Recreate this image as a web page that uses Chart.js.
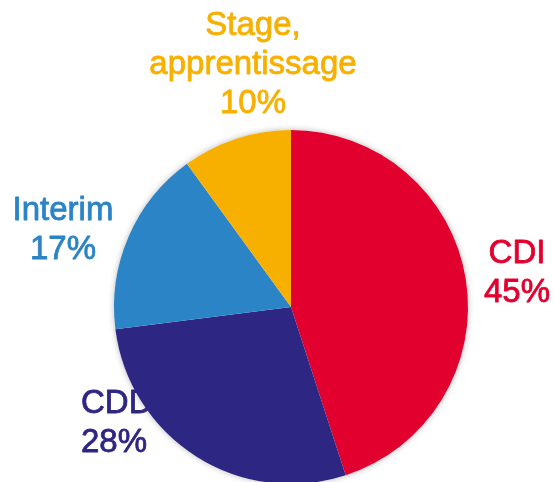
<!DOCTYPE html>
<html>
<head>
<meta charset="utf-8">
<style>
html,body{margin:0;padding:0;background:#fff;overflow:hidden;}
#wrap{position:absolute;left:0;top:0;width:554px;height:486px;}
</style>
</head>
<body>
<div id="wrap"><canvas id="myChart"></canvas></div>
<script src="https://cdn.jsdelivr.net/npm/chart.js@4/dist/chart.umd.min.js"></script>
<script>
var categories = ["CDI", "CDD", "Interim", "Stage, apprentissage"];
var values = [45, 28, 17, 10];
var colors = ["#E2002E", "#2E2683", "#2A84C6", "#F8B000"];
var labelLines = [["CDI"], ["CDD"], ["Interim"], ["Stage,", "apprentissage"]];

// label anchors (x, first baseline y) and alignment
var labelPos = [
	{x: 517, y: 263, align: "center"},
	{x: 81, y: 413, align: "left"},
	{x: 63, y: 220, align: "center"},
	{x: 253, y: 35, align: "center"}
];

var labelPlugin = {
	id: "outerLabels",
	beforeDatasetsDraw: function(chart){
		var ctx = chart.ctx;
		var arc = chart.getDatasetMeta(0).data[0];
		ctx.save();
		// soft shadow under the pie
		ctx.beginPath();
		ctx.arc(arc.x, arc.y, arc.outerRadius, 0, Math.PI * 2);
		ctx.shadowColor = "rgba(0,0,0,0.28)";
		ctx.shadowBlur = 6;
		ctx.fillStyle = "#fff";
		ctx.fill();
		ctx.shadowColor = "transparent";
		ctx.font = "33px 'Liberation Sans', Arial, sans-serif";
		ctx.textBaseline = "alphabetic";
		ctx.lineWidth = 0.8;
		ctx.lineJoin = "round";
		for(var i = 0; i < values.length; i++){
			var lines = labelLines[i].concat([values[i] + "%"]);
			var p = labelPos[i];
			ctx.fillStyle = colors[i];
			ctx.strokeStyle = colors[i];
			ctx.textAlign = p.align;
			for(var j = 0; j < lines.length; j++){
				ctx.fillText(lines[j], p.x, p.y + j * 39);
				ctx.strokeText(lines[j], p.x, p.y + j * 39);
			}
		}
		ctx.restore();
	}
};

var ctx = document.getElementById("myChart").getContext("2d");
var myPie = new Chart(ctx, {
	type: "pie",
	data: {
		labels: categories,
		datasets: [{
			data: values,
			backgroundColor: colors,
			borderWidth: 0
		}]
	},
	options: {
		responsive: true,
		maintainAspectRatio: false,
		animation: false,
		layout: {padding: {top: 130, bottom: 2, left: 114, right: 86}},
		plugins: {legend: {display: false}, tooltip: {enabled: false}}
	},
	plugins: [labelPlugin]
});
</script>
</body>
</html>
